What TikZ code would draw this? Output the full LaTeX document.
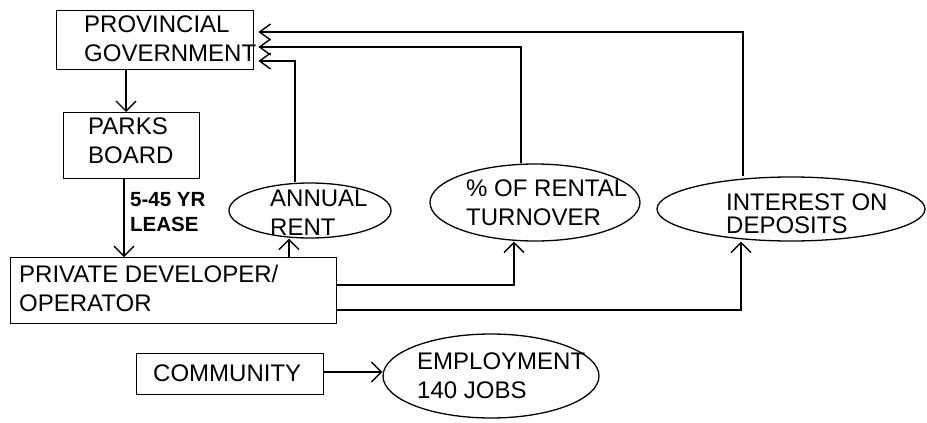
\documentclass[tikz,border=0pt]{standalone}
\usepackage{fontspec}
\setmainfont{Liberation Sans}
\usetikzlibrary{arrows.meta,shapes.geometric}
\begin{document}
\begin{tikzpicture}[x=1pt,y=-1pt,
  box/.style={draw, line width=1.4pt, inner sep=0pt, anchor=north west},
  oval/.style={draw, ellipse, line width=1.3pt, inner sep=0pt},
  lbl/.style={inner sep=0pt, anchor=north west, align=left, font=\fontsize{24}{29}\selectfont},
  conn/.style={line width=1.4pt, -{Straight Barb[length=10pt,width=20pt,line width=1.4pt]}},
  back/.style={line width=1.4pt, shorten >=4pt, -{Straight Barb[length=11pt,width=16pt,line width=1.4pt]}},
]
\useasboundingbox (0,0) rectangle (927,423);
% boxes
\node[box, minimum width=197pt, minimum height=59pt] (pg) at (56,10) {};
\node[box, minimum width=136pt, minimum height=66pt] (parks) at (63,112) {};
\node[box, minimum width=326pt, minimum height=66pt] (pd) at (10,257) {};
\node[box, minimum width=187pt, minimum height=41pt] (com) at (136,353) {};
% ellipses
\node[oval, minimum width=162pt, minimum height=55pt] (ar) at (310,210.5) {};
\node[oval, minimum width=210pt, minimum height=77pt] (rt) at (535,202.5) {};
\node[oval, minimum width=268pt, minimum height=64pt] (id) at (791,209) {};
\node[oval, minimum width=216pt, minimum height=84pt] (emp) at (491,376) {};
% texts
\node[lbl] (pgt) at (84,16) {PROVINCIAL\\GOVERNMENT};
\node[lbl] (parkst) at (88,118) {PARKS\\BOARD};
\node[lbl] (pdt) at (19,265) {PRIVATE DEVELOPER/\\OPERATOR};
\node[lbl] (comt) at (153,365) {COMMUNITY};
\node[lbl] (art) at (270,190) {ANNUAL\\RENT};
\node[lbl] (rtt) at (466,180) {\% OF RENTAL\\TURNOVER};
\node[lbl, font=\fontsize{24}{22.5}\selectfont] (idt) at (726,194) {INTEREST ON\\DEPOSITS};
\node[lbl] (empt) at (417,353) {EMPLOYMENT\\140 JOBS};
\node[lbl, font=\bfseries\fontsize{20.5}{25}\selectfont] (lease) at (130,192) {5-45 YR\\LEASE};
% connectors
\draw[conn] (pg.south -| 126,0) -- (parks.north -| 126,0);
\draw[conn] (parks.south -| 124,0) -- (pd.north -| 124,0);
\draw[conn] (pd.north -| 289,0) -- (ar.south -| 289,0);
\draw[back] (ar.north -| 295,0) |- (pg.east |- 0,61);
\draw[back] (rt.north -| 521,0) |- (pg.east |- 0,47);
\draw[back] (id.north -| 743,0) |- (pg.east |- 0,32);
\draw[conn] (pd.east |- 0,285) -| (rt.south -| 514,0);
\draw[conn] (pd.east |- 0,310) -| (id.south -| 741,0);
\draw[conn] (com.east |- 0,372) -- (emp.west |- 0,372);
\end{tikzpicture}
\end{document}
